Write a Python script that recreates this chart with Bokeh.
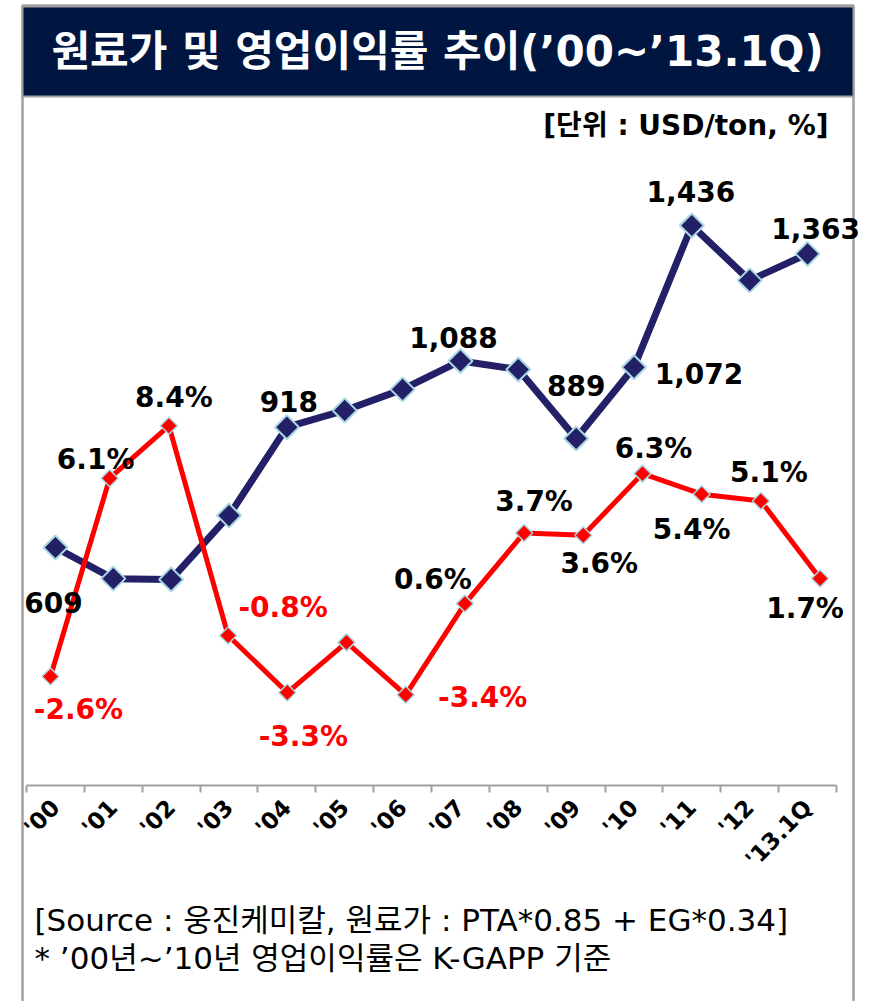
import math
from bokeh.plotting import figure
from bokeh.models import Range1d, FixedTicker, ColumnDataSource
from bokeh.core.properties import value
from bokeh.embed import file_html
from bokeh.resources import INLINE

# ---- data ----
years = ["'00", "'01", "'02", "'03", "'04", "'05", "'06", "'07", "'08", "'09",
         "'10", "'11", "'12", "'13.1Q"]
cost = [609, 529, 527, 691, 918, 961, 1015, 1088, 1066, 889, 1072, 1436, 1295, 1363]
margin = [-2.6, 6.1, 8.4, -0.8, -3.3, -1.1, -3.4, 0.6, 3.7, 3.6, 6.3, 5.4, 5.1, 1.7]
cost_labels = ["609", "", "", "", "918", "", "", "1,088", "", "889", "1,072", "1,436", "", "1,363"]
margin_labels = ["-2.6%", "6.1%", "8.4%", "-0.8%", "-3.3%", "", "-3.4%", "0.6%", "3.7%",
                 "3.6%", "6.3%", "5.4%", "5.1%", "1.7%"]

title_text = "원료가 및 영업이익률 추이(’00~’13.1Q)"
unit_text = "[단위 : USD/ton, %]"
note1 = "[Source : 웅진케미칼, 원료가 : PTA*0.85 + EG*0.34]"
note2 = "* ’00년~’10년 영업이익률은 K-GAPP 기준"

# label offsets (pixels) relative to points
cost_dx = [-2, 0, 0, 0, 2, 0, 0, -7, 0, 0, 65, -1, 0, 8]
cost_dy = [55, 0, 0, 0, -26, 0, 0, -23, 0, -53, 6, -34, 0, -25]
margin_dx = [28, -14, 5, 55, 16, 0, 77, -32, 10, 16, 11, -10, 8, -15]
margin_dy = [33, -19, -28, -28, 44, 0, 3, -24, -31, 28, -25, 35, -29, 30]

NAVY = "#232068"
RED = "#ff0000"
EDGE = "#a9d8e0"
GRAY = "#a0a0a0"
TITLE_BG = "#001640"
LATIN_KR = "DejaVu Sans, Noto Sans CJK KR"

W, H = 875, 1001
p = figure(width=W, height=H, title=None,
           x_range=Range1d(-0.9494, 14.174), y_range=Range1d(-556.9, 2013.7),
           output_backend="svg", toolbar_location=None, y_axis_location=None,
           min_border=0)
p.outline_line_color = None
p.grid.visible = False
p.background_fill_color = "white"
p.border_fill_color = "white"

p.extra_x_ranges = {"red": Range1d(-0.8446, 13.936), "px": Range1d(0, W)}
p.extra_y_ranges = {"pct": Range1d(-16.85, 27.05), "px": Range1d(H, 0)}

# ---- frame & header decorations (pixel space) ----
p.quad(left=[22], right=[853], top=[5], bottom=[H + 10], x_range_name="px", y_range_name="px",
       fill_color=None, line_color=GRAY, line_width=2.5)
p.quad(left=[22], right=[853], top=[6], bottom=[96], x_range_name="px", y_range_name="px",
       fill_color=TITLE_BG, line_color=GRAY, line_width=2)
p.text(x=[437], y=[51], text=[title_text], x_range_name="px", y_range_name="px",
       text_font=value(LATIN_KR), text_font_style="bold", text_font_size="42px",
       text_color="white", text_align="center", text_baseline="middle")
p.text(x=[828], y=[125], text=[unit_text], x_range_name="px", y_range_name="px",
       text_font=value(LATIN_KR), text_font_style="bold", text_font_size="28px",
       text_color="black", text_align="right", text_baseline="middle")
p.text(x=[34, 34], y=[919, 957], text=[note1, note2], x_range_name="px", y_range_name="px",
       text_font=value(LATIN_KR), text_font_size="31px",
       text_color="black", text_align="left", text_baseline="middle")

idx = list(range(len(years)))
src_c = ColumnDataSource(dict(x=idx, y=cost, t=cost_labels, dx=cost_dx, dy=cost_dy))
src_m = ColumnDataSource(dict(x=idx, y=margin, t=margin_labels, dx=margin_dx, dy=margin_dy,
                              c=[RED if v < 0 else "black" for v in margin]))

# ---- axis (pinned inside the frame) ----
ax = p.xaxis[0]
ax.fixed_location = -2.2
ax.bounds = (-0.5, 13.5)
ax.ticker = FixedTicker(ticks=idx, minor_ticks=[i - 0.5 for i in range(len(years) + 1)])
ax.major_label_overrides = {i: years[i] for i in idx}
ax.major_tick_line_color = None
ax.minor_tick_in = 0
ax.minor_tick_out = 7
ax.minor_tick_line_color = GRAY
ax.minor_tick_line_width = 2
ax.axis_line_color = GRAY
ax.axis_line_width = 2
ax.major_label_orientation = 0.8
ax.major_label_text_font = "DejaVu Sans"
ax.major_label_text_font_style = "bold"
ax.major_label_text_font_size = "23px"
ax.major_label_text_color = "black"
ax.major_label_standoff = 11

# ---- series ----
p.line("x", "y", source=src_c, line_color=NAVY, line_width=7)
p.scatter("x", "y", source=src_c, marker="square", angle=math.pi / 4, size=17,
          fill_color=NAVY, line_color=EDGE, line_width=2)
p.line("x", "y", source=src_m, x_range_name="red", y_range_name="pct",
       line_color=RED, line_width=5)
p.scatter("x", "y", source=src_m, x_range_name="red", y_range_name="pct",
          marker="square", angle=math.pi / 4, size=12,
          fill_color=RED, line_color=EDGE, line_width=1.5)

p.text("x", "y", text="t", source=src_c, x_offset="dx", y_offset="dy",
       text_font=value("DejaVu Sans"), text_font_style="bold", text_font_size="28px",
       text_align="center", text_baseline="middle", text_color="black")
p.text("x", "y", text="t", source=src_m, x_offset="dx", y_offset="dy",
       x_range_name="red", y_range_name="pct",
       text_font=value("DejaVu Sans"), text_font_style="bold", text_font_size="28px",
       text_align="center", text_baseline="middle", text_color="c")

open("out.html", "w").write(file_html(p, INLINE))
